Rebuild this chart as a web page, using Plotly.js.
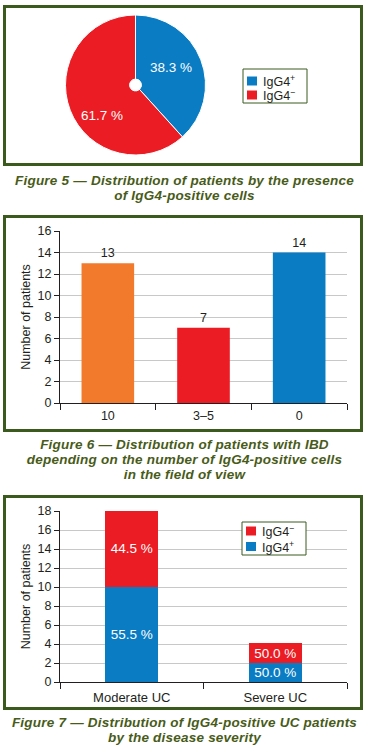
<!DOCTYPE html>
<html>
<head>
<meta charset="utf-8">
<script src="https://cdn.plot.ly/plotly-3.0.1.min.js"></script>
<style>
  html, body { margin: 0; padding: 0; background: #ffffff; }
  body { width: 369px; height: 755px; position: relative; overflow: hidden; }
  .frame { position: absolute; box-sizing: border-box; border: 3px solid #3a5a1e; background: #fff; }
  .plot { position: absolute; left: 0; width: 369px; }
  .caption { position: absolute; left: 0; width: 369px; text-align: center;
    font-family: "Liberation Sans", Arial, sans-serif; font-style: italic; font-weight: bold;
    font-size: 13.5px; letter-spacing: 0.22px; line-height: 15px; color: #485b18; white-space: nowrap; }
</style>
</head>
<body>
<div class="frame" style="left:3px; top:5px; width:360px; height:161px;"></div>
<div class="frame" style="left:3px; top:215px; width:360px; height:217px;"></div>
<div class="frame" style="left:3px; top:495px; width:360px; height:215px;"></div>

<div id="fig5" class="plot" style="top:0px; height:170px;"></div>
<div id="fig6" class="plot" style="top:210px; height:230px;"></div>
<div id="fig7" class="plot" style="top:500px; height:215px;"></div>

<div class="caption" style="top:172.5px;">Figure 5 — Distribution of patients by the presence<br>of IgG4-positive cells</div>
<div class="caption" style="top:436.5px;">Figure 6 — Distribution of patients with IBD<br>depending on the number of IgG4-positive cells<br>in the field of view</div>
<div class="caption" style="top:714.5px;">Figure 7 — Distribution of IgG4-positive UC patients<br>by the disease severity</div>

<script>
// ---- Data ----
const pieLabels = ['IgG4<sup>+</sup>', 'IgG4<sup>−</sup>'];
const pieValues = [38.3, 61.7];

const fig6Categories = ['10', '3–5', '0'];
const fig6Values = [13, 7, 14];
const fig6Ticks = [0, 2, 4, 6, 8, 10, 12, 14, 16];

const fig7Categories = ['Moderate UC', 'Severe UC'];
const fig7SeriesNames = ['IgG4<sup>+</sup>', 'IgG4<sup>−</sup>'];
const fig7Positive = [10, 2];
const fig7Negative = [8.1, 2.1];
const fig7PositivePct = [55.5, 50.0];
const fig7NegativePct = [44.5, 50.0];
const fig7Ticks = [0, 2, 4, 6, 8, 10, 12, 14, 16, 18];

// ---- Styles ----
const BLUE = '#0a7cc3';
const RED = '#ec1c24';
const ORANGE = '#f27a2c';
const GREEN = '#3a5a1e';
const FONT = 'Liberation Sans, Arial, sans-serif';
const INK = '#231f20';
const config = { staticPlot: true, displayModeBar: false };

// pixel -> paper helpers (layout only)
function mk(l, t, w, h) {
  return { x: p => (p - l) / w, y: p => (t + h - p) / h };
}

function manualLegend(conv, box, rows) {
  const shapes = [{
    type: 'rect', xref: 'paper', yref: 'paper', layer: 'above',
    x0: conv.x(box[0]), x1: conv.x(box[2]), y0: conv.y(box[1]), y1: conv.y(box[3]),
    line: { color: GREEN, width: 1 }, fillcolor: '#ffffff'
  }];
  const annotations = [];
  rows.forEach(r => {
    shapes.push({
      type: 'rect', xref: 'paper', yref: 'paper', layer: 'above',
      x0: conv.x(r.sx), x1: conv.x(r.sx + 10), y0: conv.y(r.cy - 4.5), y1: conv.y(r.cy + 4.5),
      line: { width: 0 }, fillcolor: r.color
    });
    annotations.push({
      xref: 'paper', yref: 'paper', x: conv.x(r.tx), y: conv.y(r.cy),
      xanchor: 'left', yanchor: 'middle', showarrow: false,
      text: r.label, font: { family: FONT, size: 12.5, color: INK }
    });
  });
  return { shapes, annotations };
}

// ---- Figure 5: pie ----
const c5 = mk(0, 0, 369, 170);
const leg5 = manualLegend(c5, [243, 69, 307, 103], [
  { sx: 247, tx: 261, cy: 81, color: BLUE, label: pieLabels[0] },
  { sx: 247, tx: 261, cy: 95, color: RED, label: pieLabels[1] }
]);
const pieTextPos = [[171, 67], [102, 115]];
const pieAnn = pieValues.map((v, i) => ({
  xref: 'paper', yref: 'paper', x: c5.x(pieTextPos[i][0]), y: c5.y(pieTextPos[i][1]),
  xanchor: 'center', yanchor: 'middle', showarrow: false,
  text: v.toFixed(1) + ' %', font: { family: FONT, size: 13.5, color: '#ffffff' }
}));

Plotly.newPlot('fig5', [{
  type: 'pie',
  labels: pieLabels,
  values: pieValues,
  sort: false,
  direction: 'clockwise',
  rotation: 0,
  hole: 0.085,
  marker: { colors: [BLUE, RED], line: { color: '#ffffff', width: 1 } },
  textinfo: 'none',
  domain: { x: [c5.x(65.5), c5.x(205.5)], y: [c5.y(155), c5.y(15)] }
}], {
  width: 369, height: 170,
  margin: { l: 0, r: 0, t: 0, b: 0 },
  paper_bgcolor: 'rgba(0,0,0,0)',
  plot_bgcolor: 'rgba(0,0,0,0)',
  font: { family: FONT, color: INK, size: 12 },
  showlegend: false,
  shapes: leg5.shapes,
  annotations: pieAnn.concat(leg5.annotations)
}, config);

// ---- Figure 6: bars ----
Plotly.newPlot('fig6', [{
  type: 'bar',
  x: fig6Categories,
  y: fig6Values,
  width: 0.55,
  marker: { color: [ORANGE, RED, BLUE], line: { width: 0 } },
  texttemplate: '%{y}',
  textposition: 'outside',
  cliponaxis: false,
  textfont: { color: INK, size: 12.5, family: FONT }
}], {
  width: 369, height: 230,
  margin: { l: 60, r: 22, t: 21, b: 37 },
  paper_bgcolor: 'rgba(0,0,0,0)',
  plot_bgcolor: 'rgba(0,0,0,0)',
  font: { family: FONT, color: INK, size: 12 },
  showlegend: false,
  xaxis: {
    type: 'category', showline: true, linecolor: INK, linewidth: 1,
    ticks: 'outside', tickson: 'boundaries', ticklen: 6, tickcolor: INK,
    showgrid: false, tickfont: { size: 12.5, color: INK }, ticklabelstandoff: 1
  },
  yaxis: {
    range: [0, 16], tickvals: fig6Ticks, showline: true, linecolor: INK, linewidth: 1,
    ticks: 'outside', ticklen: 5, tickcolor: INK, zeroline: false,
    showgrid: true, gridcolor: '#c8c8c8', gridwidth: 1,
    tickfont: { size: 12.5, color: INK },
    title: { text: 'Number of patients', font: { size: 12.5, color: INK }, standoff: 4 }
  }
}, config);

// ---- Figure 7: stacked bars ----
const c7 = mk(60, 511, 287, 171);
const leg7 = manualLegend(c7, [242, 522, 306, 555], [
  { sx: 246, tx: 260, cy: 531, color: RED, label: fig7SeriesNames[1] },
  { sx: 246, tx: 260, cy: 546.5, color: BLUE, label: fig7SeriesNames[0] }
]);

function stackTrace(name, vals, pct, color) {
  return {
    type: 'bar', name: name, x: fig7Categories, y: vals, width: 0.37,
    marker: { color: color, line: { width: 0 } },
    text: pct.map(v => v.toFixed(1) + ' %'),
    texttemplate: '%{text}', textposition: 'inside', insidetextanchor: 'middle',
    constraintext: 'none',
    textfont: { color: '#ffffff', size: 13.5, family: FONT }
  };
}

Plotly.newPlot('fig7', [
  stackTrace(fig7SeriesNames[0], fig7Positive, fig7PositivePct, BLUE),
  stackTrace(fig7SeriesNames[1], fig7Negative, fig7NegativePct, RED)
], {
  width: 369, height: 215,
  margin: { l: 60, r: 22, t: 11, b: 33 },
  paper_bgcolor: 'rgba(0,0,0,0)',
  plot_bgcolor: 'rgba(0,0,0,0)',
  font: { family: FONT, color: INK, size: 12 },
  barmode: 'stack',
  showlegend: false,
  shapes: leg7.shapes,
  annotations: leg7.annotations,
  xaxis: {
    type: 'category', showline: true, linecolor: INK, linewidth: 1,
    ticks: 'outside', tickson: 'boundaries', ticklen: 6, tickcolor: INK,
    showgrid: false, tickfont: { size: 13, color: INK }, ticklabelstandoff: 3
  },
  yaxis: {
    range: [0, 18], tickvals: fig7Ticks, showline: true, linecolor: INK, linewidth: 1,
    ticks: 'outside', ticklen: 5, tickcolor: INK, zeroline: false,
    showgrid: true, gridcolor: '#c8c8c8', gridwidth: 1,
    tickfont: { size: 12.5, color: INK },
    title: { text: 'Number of patients', font: { size: 12.5, color: INK }, standoff: 4 }
  }
}, config);
</script>
</body>
</html>
